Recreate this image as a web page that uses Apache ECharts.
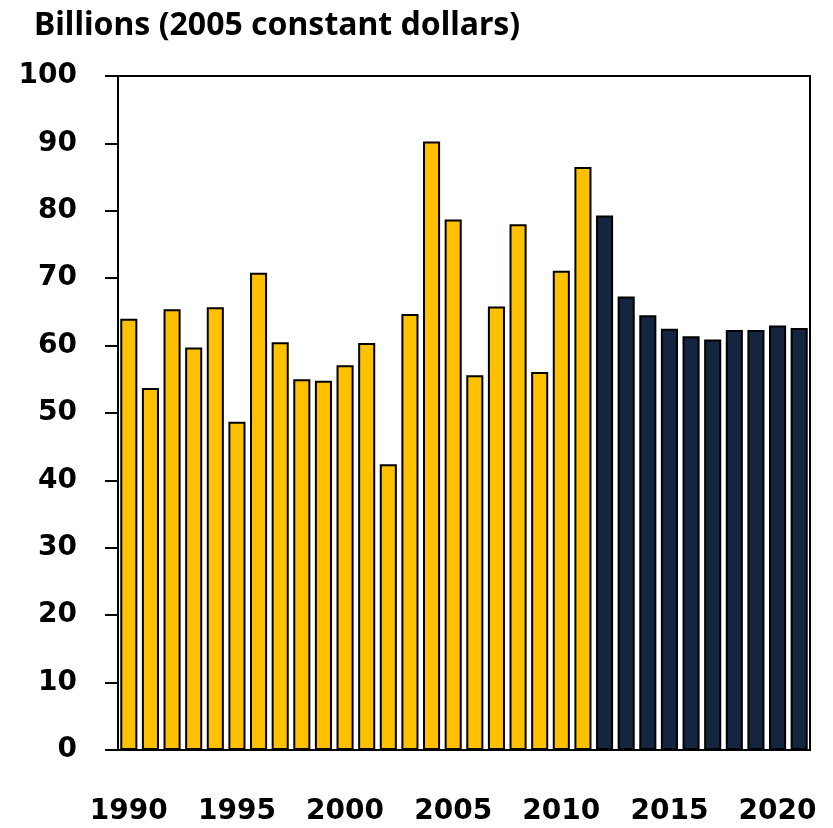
<!DOCTYPE html>
<html>
<head>
<meta charset="utf-8">
<script src="https://cdn.jsdelivr.net/npm/echarts@6/dist/echarts.min.js"></script>
<style>html,body{margin:0;padding:0;background:#fff}#c{width:833px;height:828px}</style>
</head>
<body>
<div id="c"></div>
<script>
const years = ['1990','1991','1992','1993','1994','1995','1996','1997','1998','1999','2000','2001','2002','2003','2004','2005','2006','2007','2008','2009','2010','2011','2012','2013','2014','2015','2016','2017','2018','2019','2020','2021'];
const historical = [64.0,53.7,65.4,59.7,65.7,48.7,70.8,60.5,55.0,54.8,57.1,60.4,42.4,64.7,90.3,78.7,55.6,65.8,78.0,56.1,71.1,86.5,'-','-','-','-','-','-','-','-','-','-'];
const projected = ['-','-','-','-','-','-','-','-','-','-','-','-','-','-','-','-','-','-','-','-','-','-',79.3,67.3,64.5,62.5,61.4,60.9,62.3,62.3,63.0,62.6];
const yTicks = {min:0, max:100, interval:10};
const titleText = 'Billions (2005 constant dollars)';

const chart = echarts.init(document.getElementById('c'), null, {renderer:'canvas'});
const labelFont = {fontFamily:'DejaVu Sans', fontWeight:'bold', fontSize:28, color:'#000'};
chart.setOption({
  animation:false,
  backgroundColor:'#fff',
  title:{text:titleText, left:29, top:5, textStyle:{fontFamily:'Noto Sans', fontWeight:'bold', fontSize:32, color:'#000'}},
  grid:{left:118, right:23, top:76, bottom:78, show:true, borderColor:'#000', borderWidth:2, backgroundColor:'transparent'},
  xAxis:{type:'category', data:years,
    axisLine:{lineStyle:{color:'#000', width:2}},
    axisTick:{interval:0, length:13, lineStyle:{color:'#999', width:1.5}},
    axisLabel:Object.assign({interval:4, margin:48}, labelFont)},
  yAxis:{type:'value', min:yTicks.min, max:yTicks.max, interval:yTicks.interval,
    splitLine:{show:false},
    axisLine:{show:true, lineStyle:{color:'#000', width:2}},
    axisTick:{show:true, length:13, lineStyle:{color:'#000', width:2}},
    axisLabel:Object.assign({margin:41}, labelFont)},
  series:[
    {type:'bar', stack:'a', data:historical, barWidth:'79%', itemStyle:{color:'#FFC000', borderColor:'#000', borderWidth:2}},
    {type:'bar', stack:'a', data:projected, barWidth:'79%', itemStyle:{color:'#13253F', borderColor:'#000', borderWidth:2}}
  ]
});
</script>
</body>
</html>
